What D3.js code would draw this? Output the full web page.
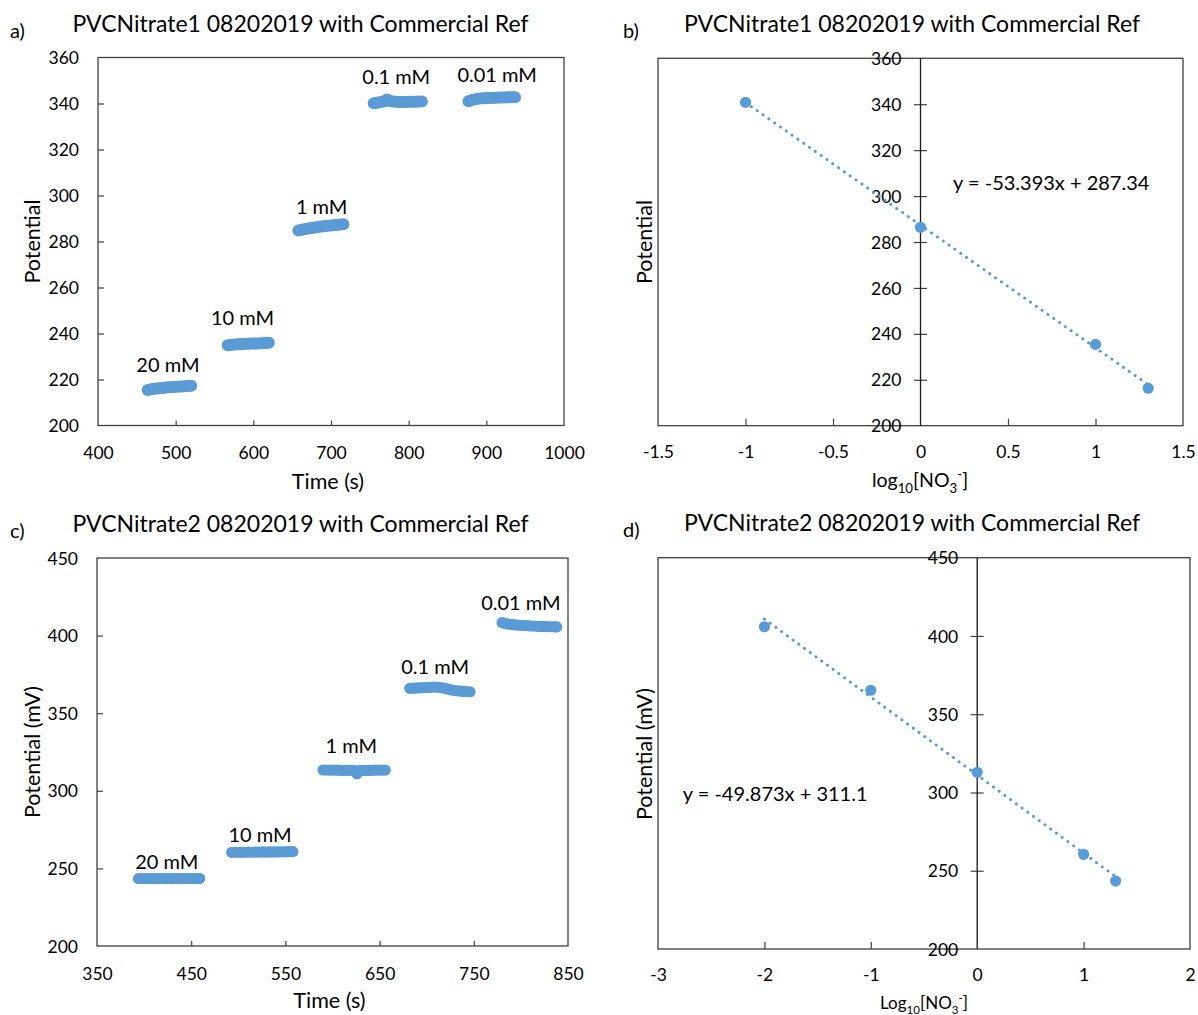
<!DOCTYPE html>
<html>
<head>
<meta charset="utf-8">
<script src="https://cdn.jsdelivr.net/npm/d3@7"></script>
<style>
  html, body { margin: 0; padding: 0; background: #ffffff; }
  svg { display: block; }
</style>
</head>
<body>
<svg id="chart" width="1198" height="1015"></svg>
<script>
// ---------------- DATA ----------------
const titles = ["PVCNitrate1 08202019 with Commercial Ref", "PVCNitrate1 08202019 with Commercial Ref",
                "PVCNitrate2 08202019 with Commercial Ref", "PVCNitrate2 08202019 with Commercial Ref"];
const panelTags = ["a)", "b)", "c)", "d)"];
const concLabels = ["20 mM", "10 mM", "1 mM", "0.1 mM", "0.01 mM"];

// Panel a: time (s), potential
const runA_20 = [[464,215.4],[467,215.7],[470,215.9],[473,216.0],[476,216.1],[479,216.2],[482,216.3],[485,216.4],[488,216.5],[491,216.6],[494,216.6],[497,216.7],[500,216.8],[503,216.9],[506,217.0],[509,217.0],[512,217.1],[515,217.2],[518,217.3],[520,217.3]];
const runA_10 = [[567,234.9],[570,235.0],[573,235.1],[576,235.2],[579,235.3],[582,235.3],[585,235.4],[588,235.4],[591,235.5],[594,235.5],[597,235.6],[600,235.6],[603,235.7],[606,235.7],[609,235.8],[612,235.8],[615,235.9],[618,236.0],[620,236.0]];
const runA_1 = [[658,284.8],[661,285.0],[664,285.2],[667,285.4],[670,285.6],[673,285.8],[676,285.9],[679,286.1],[682,286.2],[685,286.4],[688,286.5],[691,286.6],[694,286.8],[697,286.9],[700,287.0],[703,287.1],[706,287.2],[709,287.3],[712,287.4],[716,287.5]];
const runA_01 = [[755,340.1],[758,340.2],[761,340.4],[764,340.6],[767,340.8],[770,341.2],[772,341.7],[774,341.3],[777,341.0],[780,340.9],[783,340.8],[786,340.8],[789,340.7],[792,340.7],[795,340.7],[798,340.7],[801,340.8],[804,340.8],[807,340.8],[810,340.8],[813,340.9],[817,340.9]];
const runA_001 = [[877,341.0],[880,341.3],[883,341.6],[886,341.9],[889,342.1],[892,342.2],[895,342.3],[898,342.3],[901,342.4],[904,342.4],[907,342.5],[910,342.5],[913,342.5],[916,342.6],[919,342.6],[922,342.6],[925,342.6],[928,342.7],[931,342.7],[934,342.7],[937,342.7]];
const runA = [runA_20, runA_10, runA_1, runA_01, runA_001];
// label anchors (time, potential)
const labelAtA = [[490,223.4],[586,243.5],[688,292.1],[784,348.4],[914,349.5]];

// Panel c: time (s), potential (mV)
const runC_20 = [[394,243.4],[397,243.5],[400,243.4],[403,243.5],[406,243.4],[409,243.4],[412,243.5],[415,243.4],[418,243.5],[421,243.4],[424,243.4],[427,243.5],[430,243.4],[433,243.5],[436,243.4],[439,243.4],[442,243.5],[445,243.4],[448,243.5],[451,243.4],[454,243.5],[457,243.4],[459,243.5]];
const runC_10 = [[493,260.3],[496,260.4],[499,260.4],[502,260.3],[505,260.4],[508,260.4],[511,260.5],[514,260.4],[517,260.5],[520,260.5],[523,260.5],[526,260.6],[529,260.5],[532,260.6],[535,260.6],[538,260.6],[541,260.7],[544,260.7],[547,260.7],[550,260.7],[553,260.8],[556,260.8],[558,260.8]];
const runC_1 = [[590,313.4],[593,313.4],[596,313.3],[599,313.3],[602,313.3],[605,313.3],[608,313.2],[611,313.2],[614,313.2],[617,313.2],[620,313.2],[623,313.1],[626,311.0],[629,313.1],[632,313.2],[635,313.2],[638,313.2],[641,313.2],[644,313.3],[647,313.3],[650,313.3],[653,313.3],[656,313.3]];
const runC_01 = [[682,366.0],[685,366.1],[688,366.2],[691,366.3],[694,366.4],[697,366.5],[700,366.6],[703,366.7],[706,366.8],[709,366.8],[712,366.7],[715,366.5],[718,366.2],[721,365.8],[724,365.3],[727,364.9],[730,364.6],[733,364.4],[736,364.2],[739,364.0],[742,363.9],[746,363.8]];
const runC_001 = [[780,408.4],[782,408.0],[785,407.6],[788,407.3],[791,407.1],[794,406.9],[797,406.8],[800,406.6],[803,406.5],[806,406.4],[809,406.3],[812,406.2],[815,406.1],[818,406.0],[821,405.9],[824,405.9],[827,405.8],[830,405.7],[833,405.7],[836,405.6],[838,405.6]];
const runC = [runC_20, runC_10, runC_1, runC_01, runC_001];
const labelAtC = [[424,249.9],[523,267.0],[620,324.4],[709,375.3],[800,416.5]];

// Panel b: calibration 1
const logB = [-1, 0, 1, 1.301];
const potB = [340.8, 286.4, 235.4, 216.3];
const fitB = [-53.393, 287.34];
const eqB = "y = -53.393x + 287.34";
const eqAtB = [0.186, 302.7];

// Panel d: calibration 2
const logD = [-2, -1, 0, 1, 1.301];
const potD = [405.9, 365.3, 312.9, 260.5, 243.4];
const fitD = [-49.873, 311.1];
const eqD = "y = -49.873x + 311.1";
const eqAtD = [-2.767, 294.5];

// ticks
const xTicksA = [400, 500, 600, 700, 800, 900, 1000];
const yTicksA = [200, 220, 240, 260, 280, 300, 320, 340, 360];
const xTicksB = [-1.5, -1, -0.5, 0, 0.5, 1, 1.5];
const yTicksB = [200, 220, 240, 260, 280, 300, 320, 340, 360];
const xTicksC = [350, 450, 550, 650, 750, 850];
const yTicksC = [200, 250, 300, 350, 400, 450];
const xTicksD = [-3, -2, -1, 0, 1, 2];
const yTicksD = [200, 250, 300, 350, 400, 450];

// ---------------- STYLE ----------------
const FONT = "Lato, 'Open Sans', sans-serif";
const BLUE = "#5B9BD5";
const FRAME = "#404040";
const INK = "#000";
const TICKFS = 17.5;
const AXTITLEFS = 21.5;

const svg = d3.select("#chart");
svg.append("rect").attr("width", 1198).attr("height", 1015).attr("fill", "#fff");

function fmt(d) { return String(d); }

function styleAxis(g, fs) {
  g.select(".domain").remove();
  g.selectAll(".tick line").attr("stroke", FRAME).attr("stroke-width", 1.2);
  g.selectAll(".tick text").attr("font-family", FONT).attr("font-size", fs).attr("fill", INK);
}

function frame(g, x0, y0, x1, y1) {
  g.append("rect").attr("x", x0).attr("y", y0).attr("width", x1 - x0).attr("height", y1 - y0)
    .attr("fill", "none").attr("stroke", FRAME).attr("stroke-width", 1.3);
}

function titleAndTag(title, tag, cx, baseY, tagX) {
  svg.append("text").attr("x", cx).attr("y", baseY).attr("text-anchor", "middle")
    .attr("font-family", FONT).attr("font-size", 23).attr("fill", INK).text(title);
  svg.append("text").attr("x", tagX).attr("y", baseY + 6).attr("font-family", FONT)
    .attr("font-size", 20).attr("fill", INK).text(tag);
}

function nitrateLabel(sel, prefix, fs) {
  sel.append("tspan").text(prefix);
  sel.append("tspan").attr("font-size", fs * 0.68).attr("dy", fs * 0.28).text("10");
  sel.append("tspan").attr("dy", -fs * 0.28).text("[NO");
  sel.append("tspan").attr("font-size", fs * 0.68).attr("dy", fs * 0.28).text("3");
  sel.append("tspan").attr("font-size", fs * 0.68).attr("dy", -fs * 0.72).text("-");
  sel.append("tspan").attr("dy", fs * 0.44).text("]");
}

// ---------- time-series panel ----------
function timePanel(opt) {
  const x = d3.scaleLinear().domain(opt.xDomain).range([opt.left, opt.right]);
  const y = d3.scaleLinear().domain(opt.yDomain).range([opt.bottom, opt.top]);
  const g = svg.append("g");

  const ya = g.append("g").attr("transform", `translate(${opt.left},0)`)
    .call(d3.axisLeft(y).tickValues(opt.yTicks).tickSize(-6).tickPadding(19).tickFormat(fmt));
  styleAxis(ya, TICKFS);
  ya.selectAll(".tick text").attr("dy", "0.35em");

  const xa = g.append("g").attr("transform", `translate(0,${opt.bottom})`)
    .call(d3.axisBottom(x).tickValues(opt.xTicks).tickSize(-5).tickFormat(fmt));
  styleAxis(xa, TICKFS);
  xa.selectAll(".tick text").attr("y", opt.xLabelDy).attr("dy", null);
  xa.selectAll(".tick").filter(d => d === opt.xDomain[0] || d === opt.xDomain[1]).select("line").remove();
  ya.selectAll(".tick").filter(d => d === opt.yDomain[0] || d === opt.yDomain[1]).select("line").remove();

  frame(g, opt.left, opt.top, opt.right, opt.bottom);

  opt.runs.forEach(run => {
    g.append("g").selectAll("circle").data(run).join("circle")
      .attr("cx", d => x(d[0])).attr("cy", d => y(d[1])).attr("r", opt.r).attr("fill", BLUE);
  });

  g.append("g").selectAll("text").data(concLabels).join("text")
    .attr("x", (d, i) => x(opt.labelAt[i][0])).attr("y", (d, i) => y(opt.labelAt[i][1]))
    .attr("text-anchor", "middle").attr("font-family", FONT).attr("font-size", 20).attr("fill", INK)
    .text(d => d);

  g.append("text").attr("x", (opt.left + opt.right) / 2 - 3).attr("y", opt.bottom + opt.xTitleDy)
    .attr("text-anchor", "middle").attr("font-family", FONT).attr("font-size", AXTITLEFS).attr("fill", INK)
    .text("Time (s)");

  const cy = (opt.top + opt.bottom) / 2;
  g.append("text").attr("transform", `translate(40,${cy}) rotate(-90)`)
    .attr("text-anchor", "middle").attr("font-family", FONT).attr("font-size", AXTITLEFS).attr("fill", INK)
    .text(opt.yTitle);
}

// ---------- calibration panel ----------
function logPanel(opt) {
  const x = d3.scaleLinear().domain(opt.xDomain).range([opt.left, opt.right]);
  const y = d3.scaleLinear().domain(opt.yDomain).range([opt.bottom, opt.top]);
  const g = svg.append("g");

  const xa = g.append("g").attr("transform", `translate(0,${opt.bottom})`)
    .call(d3.axisBottom(x).tickValues(opt.xTicks).tickSize(-7).tickFormat(fmt));
  styleAxis(xa, TICKFS);
  xa.selectAll(".tick text").attr("y", opt.xLabelDy).attr("dy", null);
  xa.selectAll(".tick").filter(d => d === opt.xDomain[0] || d === opt.xDomain[1] || d === 0).select("line").remove();

  frame(g, opt.left, opt.top, opt.right, opt.bottom);

  const ya = g.append("g").attr("transform", `translate(${x(0)},0)`)
    .call(d3.axisLeft(y).tickValues(opt.yTicks).tickSize(6).tickPadding(13).tickFormat(fmt));
  styleAxis(ya, TICKFS);
  ya.selectAll(".tick line").attr("x1", 6.5).attr("x2", -6.5);
  ya.selectAll(".tick").filter(d => d === opt.yDomain[0] || d === opt.yDomain[1]).select("line").remove();
  ya.selectAll(".tick text").attr("dy", "0.35em");
  g.append("line").attr("x1", x(0)).attr("x2", x(0)).attr("y1", opt.top).attr("y2", opt.bottom)
    .attr("stroke", "#1a1a1a").attr("stroke-width", 1.3);

  // trendline
  const xs = d3.extent(opt.xs);
  g.append("line")
    .attr("x1", x(xs[0])).attr("y1", y(opt.fit[0] * xs[0] + opt.fit[1]))
    .attr("x2", x(xs[1])).attr("y2", y(opt.fit[0] * xs[1] + opt.fit[1]))
    .attr("stroke", BLUE).attr("stroke-width", 3).attr("stroke-linecap", "round")
    .attr("stroke-dasharray", "0.1,7");

  g.append("g").selectAll("circle").data(opt.xs).join("circle")
    .attr("cx", d => x(d)).attr("cy", (d, i) => y(opt.ys[i])).attr("r", 5.6).attr("fill", BLUE);

  g.append("text").attr("x", x(opt.eqAt[0])).attr("y", y(opt.eqAt[1]))
    .attr("font-family", FONT).attr("font-size", 20).attr("fill", INK).text(opt.eq);

  const xt = g.append("text").attr("x", opt.xTitleX).attr("y", opt.bottom + opt.xTitleDy)
    .attr("text-anchor", "middle").attr("font-family", FONT).attr("font-size", opt.xTitleFs).attr("fill", INK);
  nitrateLabel(xt, opt.xPrefix, opt.xTitleFs);

  g.append("text").attr("transform", `translate(652,${opt.yTitleY}) rotate(-90)`)
    .attr("text-anchor", "middle").attr("font-family", FONT).attr("font-size", AXTITLEFS).attr("fill", INK)
    .text(opt.yTitle);
}

// ---------- build ----------
titleAndTag(titles[0], panelTags[0], 300.5, 31.5, 10);
titleAndTag(titles[1], panelTags[1], 912, 31.5, 623);
titleAndTag(titles[2], panelTags[2], 300.5, 532, 10);
titleAndTag(titles[3], panelTags[3], 912, 531, 623);

timePanel({
  left: 98, right: 564, top: 57.5, bottom: 425.5,
  xDomain: [400, 1000], yDomain: [200, 360], xTicks: xTicksA, yTicks: yTicksA,
  runs: runA, labelAt: labelAtA, xLabelDy: 33, xTitleDy: 63, yTitle: "Potential", r: 6
});

timePanel({
  left: 97, right: 568, top: 558, bottom: 946,
  xDomain: [350, 850], yDomain: [200, 450], xTicks: xTicksC, yTicks: yTicksC,
  runs: runC, labelAt: labelAtC, xLabelDy: 33.5, xTitleDy: 62, yTitle: "Potential (mV)", r: 5.6
});

logPanel({
  left: 658, right: 1183, top: 58.3, bottom: 425.7,
  xDomain: [-1.5, 1.5], yDomain: [200, 360], xTicks: xTicksB, yTicks: yTicksB,
  xs: logB, ys: potB, fit: fitB, eq: eqB, eqAt: eqAtB,
  xLabelDy: 32.5, xTitleDy: 61.5, xTitleX: 920, xTitleFs: 19.5, xPrefix: "log",
  yTitle: "Potential", yTitleY: 242
});

logPanel({
  left: 658, right: 1190, top: 557.7, bottom: 949,
  xDomain: [-3, 2], yDomain: [200, 450], xTicks: xTicksD, yTicks: yTicksD,
  xs: logD, ys: potD, fit: fitD, eq: eqD, eqAt: eqAtD,
  xLabelDy: 32, xTitleDy: 60, xTitleX: 924, xTitleFs: 17, xPrefix: "Log",
  yTitle: "Potential (mV)", yTitleY: 754
});
</script>
</body>
</html>
